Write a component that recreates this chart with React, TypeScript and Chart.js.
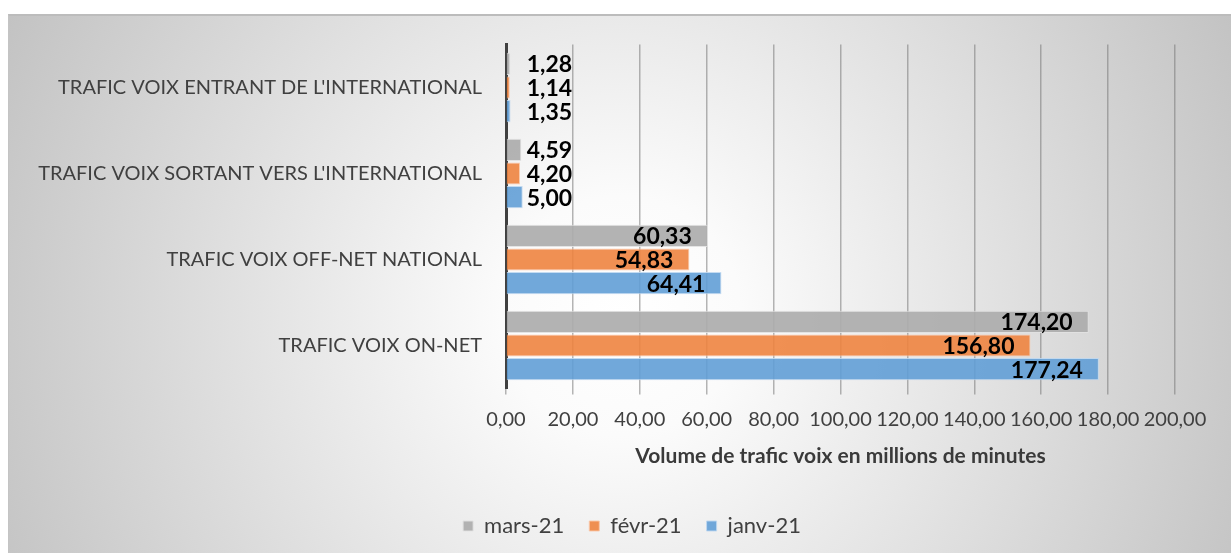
import React, { useEffect, useRef } from 'react';
import { Chart, registerables } from 'chart.js';

Chart.register(...registerables);

const categories = [
  "TRAFIC VOIX ENTRANT DE L'INTERNATIONAL",
  "TRAFIC VOIX SORTANT VERS L'INTERNATIONAL",
  'TRAFIC VOIX OFF-NET NATIONAL',
  'TRAFIC VOIX ON-NET',
];
const seriesNames = ['mars-21', 'févr-21', 'janv-21'];
const mars21 = [1.28, 4.59, 60.33, 174.2];
const fevr21 = [1.14, 4.2, 54.83, 156.8];
const janv21 = [1.35, 5.0, 64.41, 177.24];
const xTickLabels = ['0,00', '20,00', '40,00', '60,00', '80,00', '100,00', '120,00', '140,00', '160,00', '180,00', '200,00'];
const xAxisTitle = 'Volume de trafic voix en millions de minutes';
const seriesColors = ['rgba(172,172,172,0.92)', 'rgba(238,132,64,0.9)', 'rgba(98,158,214,0.9)'];
const seriesBorders = ['rgba(225,225,225,0.9)', 'rgba(250,200,170,0.9)', 'rgba(190,215,240,0.9)'];

const FONT = "Lato, 'Open Sans', sans-serif";
const fmt = (v: number) => v.toFixed(2).replace('.', ',');

const dataLabelPlugin = {
  id: 'dataLabels',
  afterDatasetsDraw(chart: any) {
    const ctx = chart.ctx;
    ctx.save();
    ctx.font = `bold 23px ${FONT}`;
    ctx.fillStyle = '#000000';
    ctx.textBaseline = 'middle';
    chart.data.datasets.forEach((ds: any, di: number) => {
      const meta = chart.getDatasetMeta(di);
      meta.data.forEach((bar: any, i: number) => {
        const v = ds.data[i] as number;
        const txt = fmt(v);
        const w = ctx.measureText(txt).width;
        const { x, y, base } = bar.getProps(['x', 'y', 'base'], true);
        if (x - base > w + 24) {
          ctx.textAlign = 'right';
          ctx.fillText(txt, x - 16, y + 1);
        } else {
          ctx.textAlign = 'left';
          ctx.fillText(txt, Math.max(x + 1, base + 20), y + 1);
        }
      });
    });
    ctx.restore();
  },
};

export default function App() {
  const ref = useRef<HTMLCanvasElement | null>(null);
  useEffect(() => {
    if (!ref.current) return;
    const datasets = [mars21, fevr21, janv21].map((d, i) => ({
      label: seriesNames[i],
      data: d,
      backgroundColor: seriesColors[i],
      borderColor: seriesBorders[i],
      borderWidth: 1,
      categoryPercentage: 0.823,
      barPercentage: 0.94,
    }));
    const chart = new Chart(ref.current, {
      type: 'bar',
      data: { labels: categories, datasets },
      plugins: [dataLabelPlugin],
      options: {
        indexAxis: 'y',
        animation: false,
        responsive: true,
        maintainAspectRatio: false,
        layout: { padding: { left: 24, right: 0, top: 28.5, bottom: 6 } },
        scales: {
          x: {
            min: 0,
            max: 200,
            z: 1,
            afterFit: (s: any) => { s.height = 101.5; },
            ticks: {
              stepSize: 20,
              padding: 13,
              color: '#404040',
              font: { family: FONT, size: 20 },
              maxRotation: 0,
              autoSkip: false,
              callback: (_v: any, idx: number) => xTickLabels[idx],
            },
            grid: { color: 'rgba(120,120,120,0.55)', lineWidth: 1.5, tickLength: 6, drawTicks: true },
            border: { display: false },
            title: {
              display: true,
              text: xAxisTitle,
              color: '#3a3a3a',
              font: { family: FONT, size: 21, weight: 'bold' },
              padding: { top: 0, bottom: 21.5 },
            },
          },
          y: {
            afterFit: (s: any) => { s.width = 473; },
            ticks: { color: '#404040', font: { family: FONT, size: 20 }, padding: 0 },
            grid: { display: false, drawTicks: true, tickLength: 24 },
            border: { display: true, color: '#404040', width: 3 },
          },
          yRightSpace: {
            type: 'linear',
            position: 'right',
            display: true,
            afterFit: (s: any) => { s.width = 56; },
            ticks: { display: false },
            grid: { display: false, drawTicks: false },
            border: { display: false },
          },
        },
        plugins: {
          legend: {
            position: 'bottom',
            labels: {
              color: '#404040',
              font: { family: FONT, size: 22 },
              boxWidth: 10,
              boxHeight: 10,
              padding: 25,
            },
          },
          tooltip: { enabled: false },
        },
      } as any,
    });
    return () => chart.destroy();
  }, []);

  return (
    <div
      style={{
        position: 'fixed',
        left: 8,
        top: 14,
        right: 0,
        bottom: 0,
        boxSizing: 'border-box',
        borderTop: '2px solid #bcbcbc',
        borderLeft: '1px solid #c4c4c4',
        background: 'radial-gradient(circle at 612px 300px, #ffffff 0px, #fbfbfb 120px, #bfbfbf 720px)',
      }}
    >
      <div style={{ position: 'relative', width: '100%', height: '100%' }}>
        <canvas ref={ref} />
      </div>
    </div>
  );
}
